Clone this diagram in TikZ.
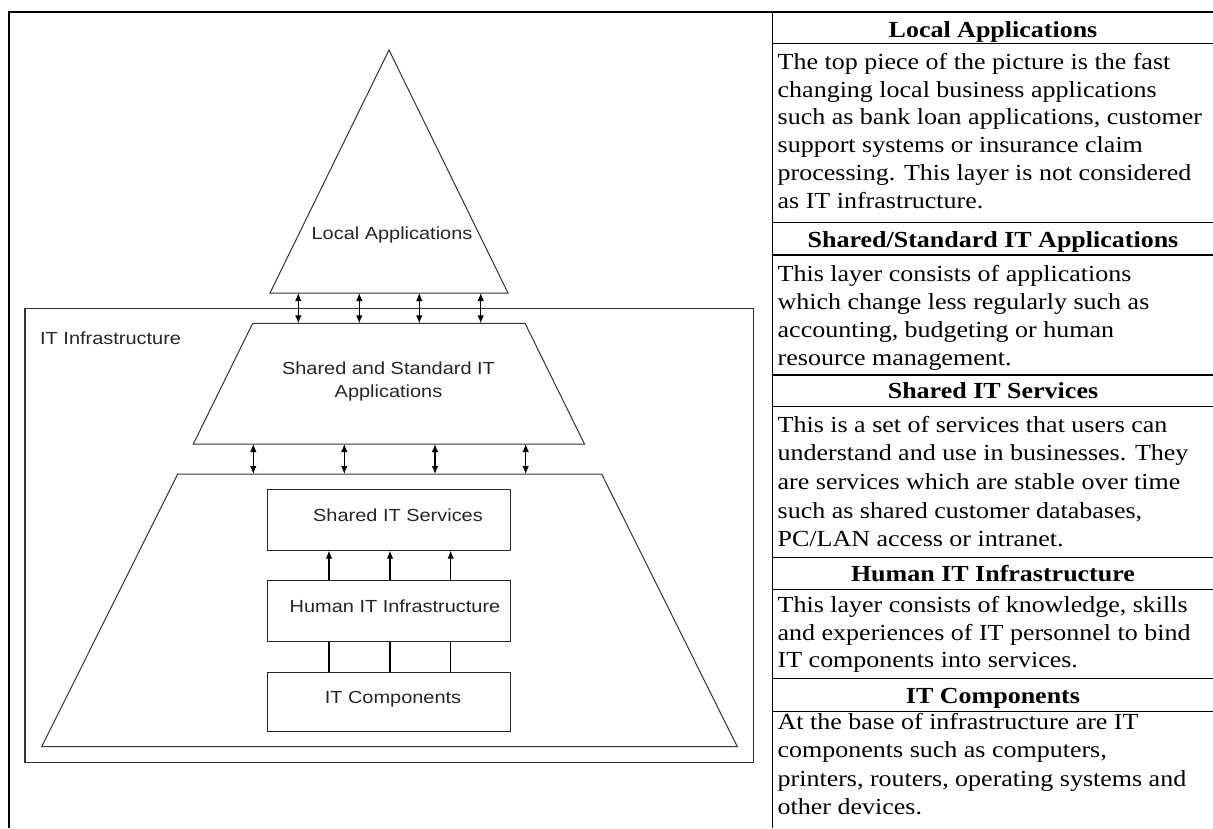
\documentclass[tikz,border=0pt]{standalone}
\usepackage{fontspec}
\usetikzlibrary{arrows.meta,calc}
\newfontfamily\diagfont{Liberation Sans}[FakeStretch=1.14]
\newfontfamily\tabfont{Liberation Serif}[FakeStretch=1.13]
\tikzset{
  frameline/.style={line width=1.4pt, black},
  shape line/.style={line width=1pt, black!80},
  boxnode/.style={draw=black!85, line width=1.1pt, minimum width=242.7pt, inner sep=0pt},
  dtext/.style={font=\diagfont\fontsize{17.5}{23}\selectfont, text=black!85, inner sep=0pt},
  thead/.style={font=\tabfont\bfseries\fontsize{23}{27.8}\selectfont, inner sep=0pt, anchor=base},
  tbody/.style={font=\tabfont\fontsize{23}{#1}\selectfont, inner sep=0pt, anchor=base west, align=left},
  biarrow/.style={line width=1.1pt, {Latex[length=8pt,width=6.5pt]}-{Latex[length=8pt,width=6.5pt]}},
  uparrow/.style={line width=1.1pt, -{Latex[length=8pt,width=6.5pt]}},
  plainlink/.style={line width=1.1pt}
}
\begin{document}
\begin{tikzpicture}[x=1pt,y=-1pt]
\useasboundingbox (0,0) rectangle (1213,828);
\fill[white] (0,0) rectangle (1213,828);

% outer frame and table
\draw[frameline] (9,828) -- (9,12) -- (1213,12);
\draw[frameline] (772.7,12) -- (772.7,828);
\foreach \yy in {43.5,222.7,255,375,406.7,557.7,589.5,678.3,711.7}
  \draw[frameline] (772.7,\yy) -- (1213,\yy);

% IT infrastructure frame
\draw[shape line, line width=1.2pt] (25,308.3) rectangle (753.3,762.7);
\node[dtext, anchor=base west] (itinfra) at (40,344) {IT Infrastructure};

% Local applications triangle
\coordinate (apex) at (389,50);
\coordinate (tbl) at (270,293);
\coordinate (tbr) at (508,293);
\draw[shape line] (apex) -- (tbr) -- (tbl) -- cycle;
\node[dtext, anchor=base] (localapp) at (392,239.3) {Local Applications};

% upper trapezoid
\coordinate (utl) at (252.7,323.3);
\coordinate (utr) at (525,323.3);
\coordinate (ubr) at (584.5,444);
\coordinate (ubl) at (193.3,444);
\draw[shape line] (utl) -- (utr) -- (ubr) -- (ubl) -- cycle;
\node[dtext, anchor=base, align=center] (sharedapp) at (388.5,397.5) {Shared and Standard IT\\Applications};

% lower trapezoid
\coordinate (ltl) at (177.7,474);
\coordinate (ltr) at (601.7,474);
\coordinate (lbr) at (737.3,746.7);
\coordinate (lbl) at (41.7,746.7);
\draw[shape line] (ltl) -- (ltr) -- (lbr) -- (lbl) -- cycle;

% arrows triangle <-> upper trapezoid
\foreach \xx in {298.3,359.3,419.3,480.7}
  \draw[biarrow] (\xx,293) -- (\xx,323.3);
% arrows upper <-> lower trapezoid
\foreach \xx in {253.3,344.3,435,525.7}
  \draw[biarrow] (\xx,444) -- (\xx,474);

% inner boxes
\node[boxnode, minimum height=60.7pt] (svc) at (388.7,519.7) {};
\node[boxnode, minimum height=61.3pt] (hum) at (388.7,610.7) {};
\node[boxnode, minimum height=59.4pt] (comp) at (388.7,702) {};
\node[dtext, anchor=base] (svctext) at (398,521.5) {Shared IT Services};
\node[dtext, anchor=base] (humtext) at (395,612.3) {Human IT Infrastructure};
\node[dtext, anchor=base] (comptext) at (393,703) {IT Components};

\foreach \dx in {-59.7,1.3,62}{
  \draw[uparrow] ($(hum.north)+(\dx,0)$) -- ($(svc.south)+(\dx,0)$);
  \draw[plainlink] ($(comp.north)+(\dx,0)$) -- ($(hum.south)+(\dx,0)$);
}

% table text (base anchor = last line's baseline)
\node[thead] (h1) at (993,37.7) {Local Applications};
\node[tbody=27.8] (b1) at (777.5,208.3) {The top piece of the picture is the fast\\changing local business applications\\such as bank loan applications, customer\\support systems or insurance claim\\processing. This layer is not considered\\as IT infrastructure.};
\node[thead] (h2) at (993,247.7) {Shared/Standard IT Applications};
\node[tbody=28] (b2) at (777.5,365.5) {This layer consists of applications\\which change less regularly such as\\accounting, budgeting or human\\resource management.};
\node[thead] (h3) at (993,398.3) {Shared IT Services};
\node[tbody=28.7] (b3) at (777.5,546.8) {This is a set of services that users can\\understand and use in businesses. They\\are services which are stable over time\\such as shared customer databases,\\PC/LAN access or intranet.};
\node[thead] (h4) at (993,581.7) {Human IT Infrastructure};
\node[tbody=27.4] (b4) at (777.5,667.5) {This layer consists of knowledge, skills\\and experiences of IT personnel to bind\\IT components into services.};
\node[thead] (h5) at (993,703.3) {IT Components};
\node[tbody=28.6] (b5) at (777.5,814.8) {At the base of infrastructure are IT\\components such as computers,\\printers, routers, operating systems and\\other devices.};
\end{tikzpicture}
\end{document}
